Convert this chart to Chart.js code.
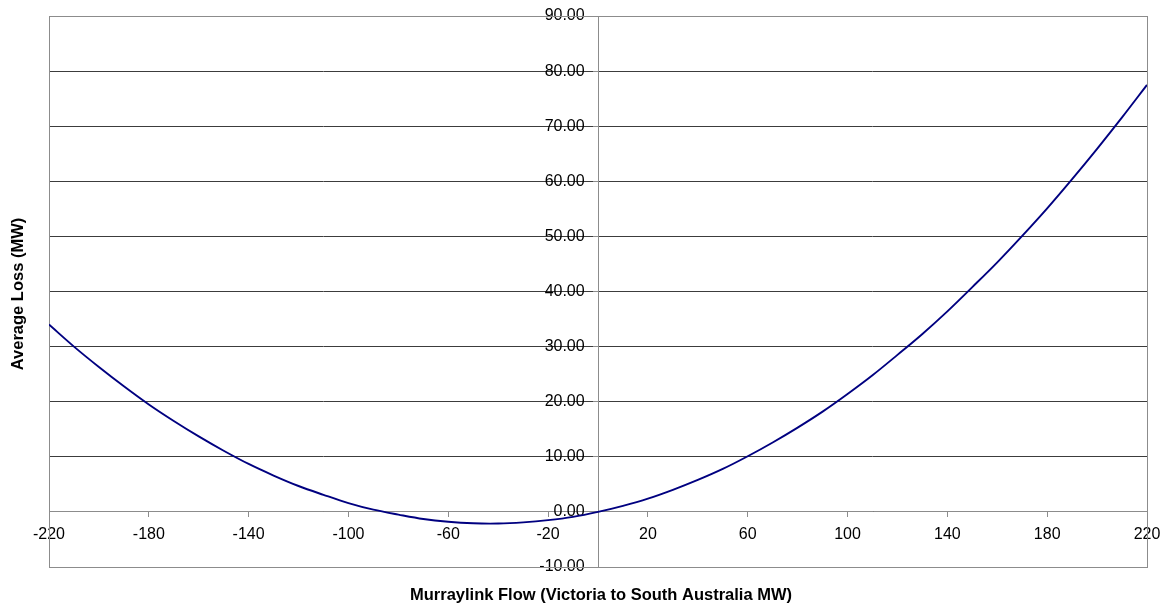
<!DOCTYPE html>
<html><head><meta charset="utf-8">
<script src="https://cdn.jsdelivr.net/npm/chart.js@4.4.0/dist/chart.umd.min.js"></script>
<style>html,body{margin:0;padding:0;background:#fff;overflow:hidden}</style>
</head><body>
<canvas id="c" width="1167" height="607"></canvas>
<script>
const flow = [-220,-210,-200,-190,-180,-170,-160,-150,-140,-130,-120,-110,-100,-90,-80,-70,-60,-50,-40,-30,-20,-10,0,10,20,30,40,50,60,70,80,90,100,110,120,130,140,150,160,170,180,190,200,210,220];
const loss = [34.0,30.0,26.3,22.8,19.5,16.5,13.7,11.1,8.7,6.6,4.7,3.1,1.6,0.4,-0.5,-1.3,-1.8,-2.07,-2.11,-1.9,-1.5,-0.9,0,1.1,2.4,4.0,5.8,7.8,10.1,12.6,15.3,18.2,21.4,24.8,28.5,32.3,36.4,40.8,45.3,50.1,55.1,60.4,65.9,71.6,77.5];
const xTicks = [-220,-180,-140,-100,-60,-20,20,60,100,140,180,220];
const yTicks = [-10,0,10,20,30,40,50,60,70,80,90];
const xTitle = 'Murraylink Flow (Victoria to South Australia MW)';
const yTitle = 'Average Loss (MW)';

const FONT = "'Liberation Sans', Arial, sans-serif";

const framePlugin = {
  id: 'frame',
  beforeDatasetsDraw(chart) {
    const {ctx, chartArea: a} = chart;
    ctx.save();
    ctx.strokeStyle = '#8c8c8c';
    ctx.lineWidth = 1;
    ctx.strokeRect(Math.round(a.left) + 0.5, Math.round(a.top) + 0.5, Math.round(a.right - a.left), Math.round(a.bottom - a.top));
    ctx.restore();
  },
  afterDraw(chart) {
    const {ctx} = chart;
    ctx.save();
    ctx.fillStyle = '#000';
    ctx.font = 'bold 16.5px ' + FONT;
    ctx.textAlign = 'center';
    ctx.textBaseline = 'middle';
    ctx.fillText(xTitle, 601, 595);
    ctx.translate(18, 294);
    ctx.rotate(-Math.PI / 2);
    ctx.fillText(yTitle, 0, 0);
    ctx.restore();
  }
};

new Chart(document.getElementById('c'), {
  type: 'line',
  data: {
    datasets: [{
      data: flow.map((x, i) => ({x: x, y: loss[i]})),
      borderColor: '#000080',
      borderWidth: 1.9,
      pointRadius: 0,
      fill: false,
      tension: 0.35
    }]
  },
  options: {
    responsive: false,
    animation: false,
    devicePixelRatio: 1,
    layout: {padding: {left: 49, top: 16, right: 20, bottom: 40}},
    plugins: {legend: {display: false}, tooltip: {enabled: false}},
    scales: {
      x: {
        type: 'linear',
        min: -220, max: 220,
        position: {y: 0},
        afterBuildTicks: s => { s.ticks = xTicks.map(v => ({value: v})); },
        afterFit: s => { s.height = 0; s.paddingLeft = 0; s.paddingRight = 0; s.paddingTop = 0; s.paddingBottom = 0; },
        grid: {drawOnChartArea: false, drawTicks: true, tickLength: 5, color: '#8c8c8c'},
        border: {color: '#8c8c8c', width: 1},
        ticks: {color: '#000', font: {family: FONT, size: 16}, padding: 8, maxRotation: 0, autoSkip: false,
                callback: v => String(v)}
      },
      y: {
        type: 'linear',
        min: -10, max: 90,
        position: {x: 0},
        afterBuildTicks: s => { s.ticks = yTicks.map(v => ({value: v})); },
        afterFit: s => { s.width = 0; s.paddingLeft = 0; s.paddingRight = 0; s.paddingTop = 0; s.paddingBottom = 0; },
        grid: {drawOnChartArea: true, drawTicks: true, tickLength: 5, color: '#3c3c3c', tickColor: '#8c8c8c'},
        border: {color: '#8c8c8c', width: 1},
        ticks: {color: '#000', font: {family: FONT, size: 16}, autoSkip: false,
                callback: v => Number(v).toFixed(2) + '   '}
      }
    }
  },
  plugins: [framePlugin]
});
</script>
</body></html>
